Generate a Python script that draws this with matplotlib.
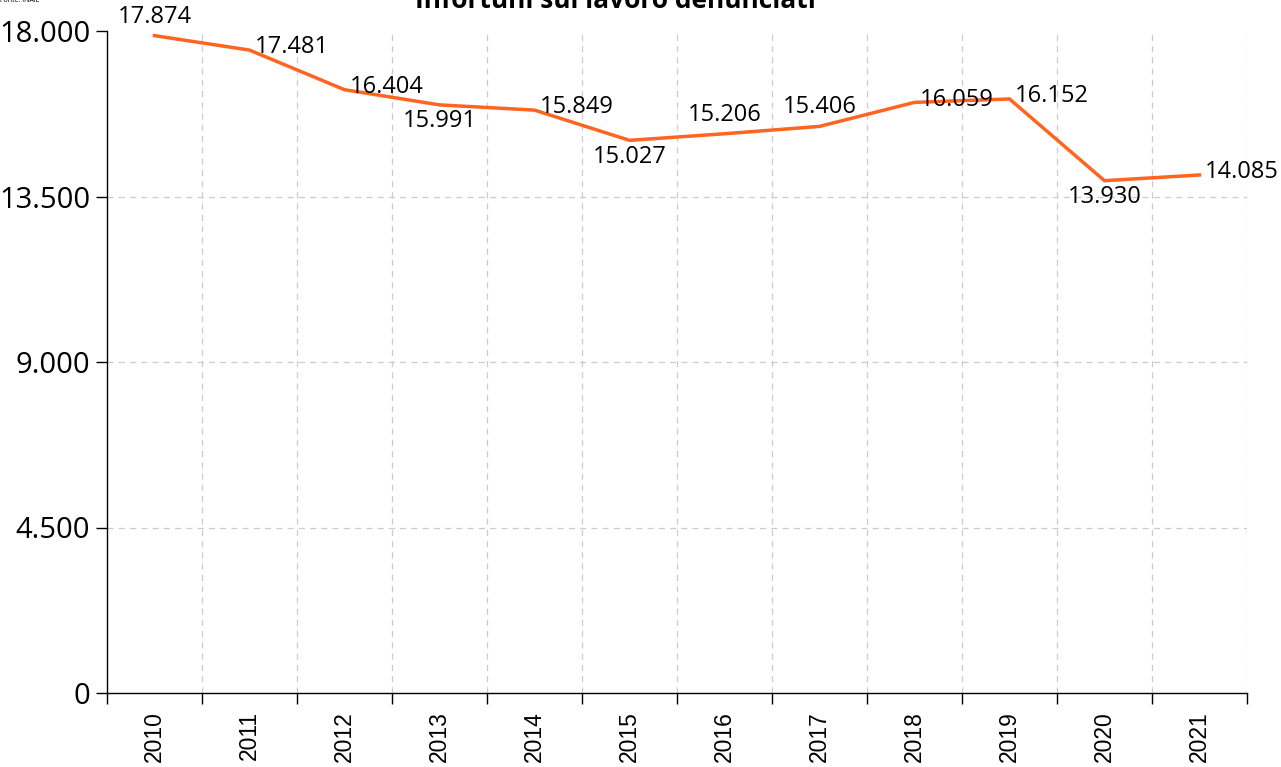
import matplotlib
matplotlib.use("Agg")
import matplotlib.pyplot as plt
from matplotlib.ticker import FixedLocator, FuncFormatter

years = ["2010", "2011", "2012", "2013", "2014", "2015", "2016", "2017", "2018", "2019", "2020", "2021"]
values = [17874, 17481, 16404, 15991, 15849, 15027, 15206, 15406, 16059, 16152, 13930, 14085]
label_pos = ["above", "right", "right", "below", "right", "below", "above", "above", "right", "right", "below", "right"]
yticks = [0, 4500, 9000, 13500, 18000]
title = "Infortuni sul lavoro denunciati"
source = "Fonte: INAIL"

plt.rcParams['font.family'] = ['Open Sans', 'DejaVu Sans']

def fmt(v):
    return f"{int(v):,}".replace(",", ".")

W, H = 1281, 767
fig = plt.figure(figsize=(W / 100, H / 100), dpi=100)
ax = fig.add_axes([107 / W, 1 - 693 / H, (1247 - 107) / W, (693 - 31) / H])

x = list(range(len(years)))
ax.plot(x, values, color="#FF6420", lw=2.5, solid_joinstyle="miter", clip_on=False, zorder=3)

ax.set_xlim(-0.5, len(years) - 0.5)
ax.set_ylim(0, 18000)
ax.set_yticks(yticks)
ax.yaxis.set_major_formatter(FuncFormatter(lambda v, p: fmt(v)))
ax.xaxis.set_minor_locator(FixedLocator([i - 0.5 for i in range(len(years) + 1)]))
ax.tick_params(axis="x", which="major", length=0, pad=13)
ax.tick_params(axis="x", which="minor", length=8, width=1, direction="out")
ax.tick_params(axis="y", which="major", length=8, width=1, labelsize=21, pad=4)
ax.set_xticks(x)
ax.set_xticklabels(years, rotation=90, fontsize=16.5, fontfamily="Liberation Sans")

for s in ["top", "right"]:
    ax.spines[s].set_visible(False)
for s in ["left", "bottom"]:
    ax.spines[s].set_color("black")
    ax.spines[s].set_linewidth(1)

ax.grid(False)
for yv in yticks[1:-1]:
    ax.axhline(yv, color="#cccccc", lw=0.9, ls=(0, (5, 4)), zorder=1)
for i in range(1, len(years) + 1):
    ax.axvline(i - 0.5, color="#cccccc", lw=0.9, ls=(0, (5, 4)), zorder=1)

for xi, v, pos in zip(x, values, label_pos):
    t = fmt(v)
    if pos == "above":
        ax.annotate(t, (xi, v), xytext=(0, 5), textcoords="offset points", ha="center", va="bottom", fontsize=17)
    elif pos == "below":
        ax.annotate(t, (xi, v), xytext=(0, -3), textcoords="offset points", ha="center", va="top", fontsize=17)
    else:
        ax.annotate(t, (xi, v), xytext=(4, 2), textcoords="offset points", ha="left", va="center", fontsize=17)

fig.text(615 / W, 1.0 - 1 / H, title, ha="center", va="center", fontsize=19, fontweight="bold")
fig.text(0.0, 1.0, source, ha="left", va="center", fontsize=5)

fig.savefig("out.png", dpi=100)
